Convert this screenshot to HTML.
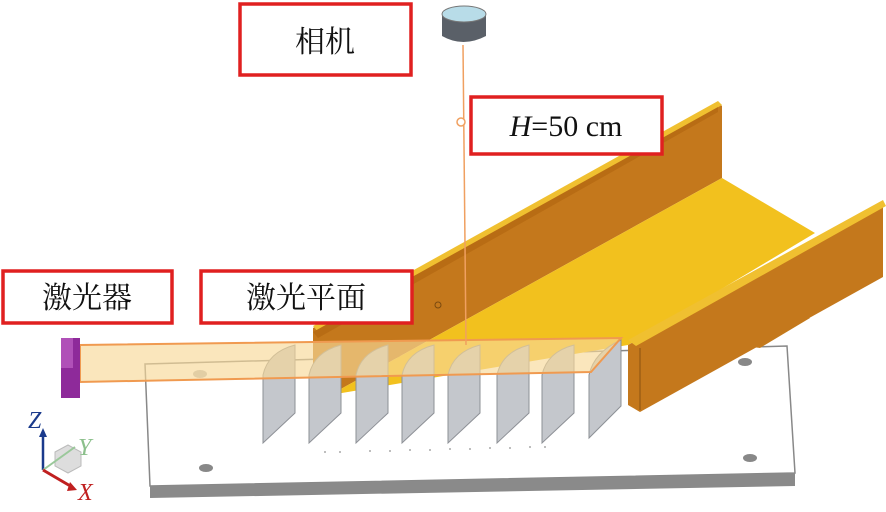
<!DOCTYPE html>
<html><head><meta charset="utf-8"><style>
html,body{margin:0;padding:0;background:#fff;}
svg{display:block;}
.lb{font-family:"Liberation Serif","Noto Serif CJK SC","Noto Sans CJK SC",serif;font-size:30px;fill:#111;}
</style></head><body>
<svg width="886" height="512" viewBox="0 0 886 512" xmlns="http://www.w3.org/2000/svg">
<!-- base plate -->
<polygon points="145,364 787,346 795,473 150,486" fill="#fff" stroke="#888" stroke-width="1.5"/>
<polygon points="150,486 795,473 795,486 150,498" fill="#8a8a8a"/>
<ellipse cx="200" cy="374" rx="7" ry="4" fill="#bbb"/>
<ellipse cx="206" cy="468" rx="7" ry="4" fill="#888"/>
<ellipse cx="745" cy="362" rx="7" ry="4" fill="#888"/>
<ellipse cx="750" cy="458" rx="7" ry="4" fill="#888"/>
<g fill="#aaa"><circle cx="325" cy="452" r="1"/><circle cx="340" cy="452" r="1"/><circle cx="370" cy="451" r="1"/><circle cx="390" cy="451" r="1"/><circle cx="410" cy="450" r="1"/><circle cx="430" cy="450" r="1"/><circle cx="450" cy="449" r="1"/><circle cx="470" cy="449" r="1"/><circle cx="490" cy="448" r="1"/><circle cx="510" cy="448" r="1"/><circle cx="530" cy="447" r="1"/><circle cx="545" cy="447" r="1"/></g>
<!-- support under right wall -->
<polygon points="740,345 800,312 810,318 760,348" fill="#c47a1c"/>
<!-- left wall -->
<polygon points="313,328 718,103 722,106 722,178 330,395 313,395" fill="#c4781c"/>
<polygon points="313,326 718,101 722,105 318,332" fill="#f0c030"/>
<polygon points="313,332 718,107 718,112 318,338" fill="#b86c14"/>
<circle cx="438" cy="305" r="3" fill="none" stroke="#7a4a10" stroke-width="1"/>
<!-- floor -->
<polygon points="722,178 815,233 628,345 330,395" fill="#f2c11e"/>
<!-- right wall -->
<polygon points="628,345 883,205 883,277 640,412 628,405" fill="#c4781c"/>
<polygon points="628,340 883,200 886,206 636,346" fill="#f0c030"/>
<line x1="640" y1="348" x2="640" y2="410" stroke="#8a5210" stroke-width="1"/>
<!-- fins -->
<g fill="#c4c7cc" stroke="#8d9096" stroke-width="1">
<path d="M263,375 Q268,352 295,345 L295,413 L263,443 Z"/>
<path d="M309,375 Q314,352 341,345 L341,413 L309,443 Z"/>
<path d="M356,375 Q361,352 388,345 L388,413 L356,443 Z"/>
<path d="M402,375 Q407,352 434,345 L434,413 L402,443 Z"/>
<path d="M448,375 Q453,352 480,345 L480,413 L448,443 Z"/>
<path d="M497,375 Q502,352 529,345 L529,413 L497,443 Z"/>
<path d="M542,375 Q547,352 574,345 L574,413 L542,443 Z"/>
<path d="M589,375 Q594,352 621,340 L621,406 L589,438 Z"/>
</g>
<!-- laser plane -->
<polygon points="80,345 621,338 591,372 80,382" fill="#f8d898" fill-opacity="0.65" stroke="#f09a50" stroke-width="2"/>
<!-- laser -->
<rect x="61" y="338" width="19" height="60" fill="#8e2a9a"/>
<rect x="61" y="338" width="12" height="30" fill="#b050b8"/>
<!-- camera line -->
<line x1="463" y1="45" x2="466" y2="345" stroke="#f0a060" stroke-width="1.5"/>
<circle cx="461" cy="122" r="4" fill="#fff" stroke="#f0a060" stroke-width="1.5"/>
<!-- camera -->
<path d="M442,14 L442,36 Q463,48 486,36 L486,14 Z" fill="#5a6068"/>
<ellipse cx="464" cy="14" rx="22" ry="8" fill="#b8dce8" stroke="#777" stroke-width="1"/>
<!-- axis -->
<polygon points="55,452 68,445 81,452 81,466 68,473 55,466" fill="#ddd" stroke="#bbb"/>
<line x1="43" y1="470" x2="43" y2="435" stroke="#1a3a8c" stroke-width="2.5"/>
<polygon points="39,437 47,437 43,428" fill="#1a3a8c"/>
<line x1="43" y1="470" x2="75" y2="447" stroke="#9ac89a" stroke-width="2"/>
<line x1="43" y1="470" x2="72" y2="487" stroke="#c02020" stroke-width="3"/>
<polygon points="70,482 77,490 67,491" fill="#c02020"/>
<text x="28" y="428" font-family="Liberation Serif,serif" font-style="italic" font-size="24" fill="#1a3a8c">Z</text>
<text x="78" y="455" font-family="Liberation Serif,serif" font-style="italic" font-size="24" fill="#8cc08c">Y</text>
<text x="78" y="500" font-family="Liberation Serif,serif" font-style="italic" font-size="24" fill="#c02020">X</text>
<!-- labels -->
<g fill="#fff" stroke="#e02020" stroke-width="3.5">
<rect x="240" y="4" width="171" height="71"/>
<rect x="471" y="97" width="191" height="57"/>
<rect x="3" y="271" width="169" height="52"/>
<rect x="201" y="271" width="211" height="52"/>
</g>
<text class="lb" x="325" y="52" text-anchor="middle">相机</text>
<text class="lb" x="566" y="136" text-anchor="middle"><tspan font-style="italic">H</tspan>=50 cm</text>
<text class="lb" x="87" y="308" text-anchor="middle">激光器</text>
<text class="lb" x="306" y="308" text-anchor="middle">激光平面</text>
</svg>
</body></html>
